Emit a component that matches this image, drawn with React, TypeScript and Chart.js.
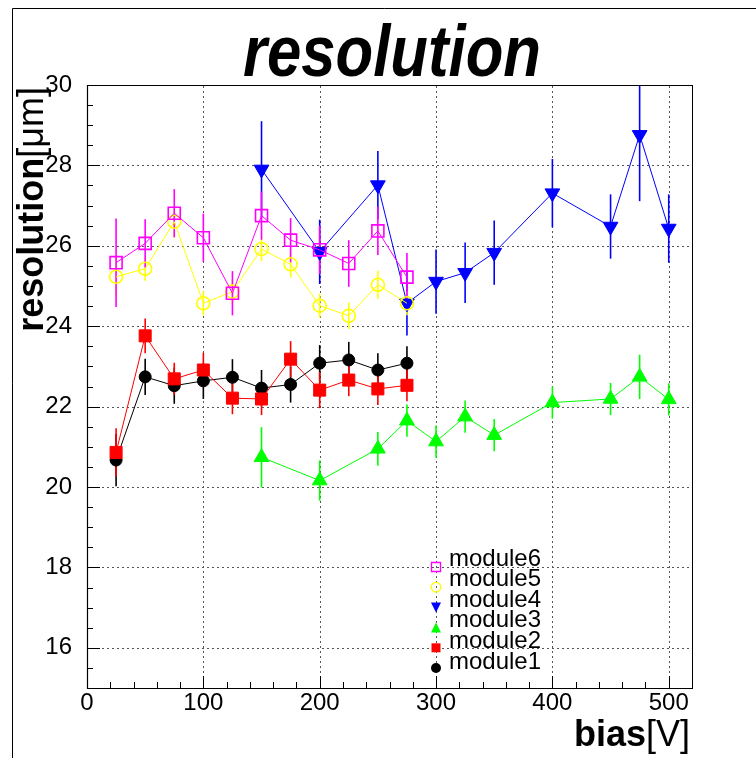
import React, { useEffect, useRef } from 'react';
import { Chart, registerables } from 'chart.js';

Chart.register(...registerables);

// ---------- data ----------
const biasA = [25, 50, 75, 100, 125, 150, 175, 200, 225, 250, 275];
const biasB = [150, 200, 250, 275, 300, 325, 350, 400, 450, 475, 500];

const module1 = [20.67, 22.74, 22.52, 22.64, 22.73, 22.46, 22.55, 23.08, 23.16, 22.91, 23.08];
const module1Err = [0.65, 0.45, 0.45, 0.45, 0.45, 0.45, 0.45, 0.45, 0.45, 0.42, 0.42];

const module2 = [20.86, 23.76, 22.69, 22.91, 22.21, 22.19, 23.18, 22.41, 22.66, 22.44, 22.53];
const module2Err = [0.6, 0.43, 0.4, 0.43, 0.4, 0.4, 0.45, 0.45, 0.4, 0.4, 0.4];

const module3 = [20.74, 20.16, 20.95, 21.65, 21.13, 21.75, 21.29, 22.1, 22.19, 22.74, 22.18];
const module3Err = [0.75, 0.5, 0.42, 0.4, 0.4, 0.4, 0.4, 0.4, 0.4, 0.55, 0.4];

const module4 = [27.9, 25.85, 27.51, 24.57, 25.11, 25.33, 25.83, 27.31, 26.48, 28.76, 26.43];
const module4Err = [1.2, 0.8, 0.85, 0.8, 0.8, 0.75, 0.8, 0.85, 0.8, 1.65, 0.85];

const module5 = [25.23, 25.43, 26.6, 24.57, 24.86, 25.92, 25.54, 24.51, 24.26, 25.03, 24.57];
const module5Err = [0.5, 0.3, 0.4, 0.3, 0.3, 0.3, 0.33, 0.3, 0.33, 0.35, 0.3];

const module6 = [25.58, 26.06, 26.81, 26.2, 24.82, 26.75, 26.14, 25.9, 25.56, 26.37, 25.22];
const module6Err = [1.1, 0.6, 0.6, 0.6, 0.55, 0.6, 0.55, 0.6, 0.58, 0.6, 0.6];

const xTicks = [0, 100, 200, 300, 400, 500];
const yTicks = [16, 18, 20, 22, 24, 26, 28, 30];
const xMinorStep = 20;
const yMinorStep = 0.5;
const xMin = 0;
const xMax = 520;
const yMin = 15;
const yMax = 30;

const titleText = 'resolution';
const yTitleBold = 'resolution';
const yTitleUnit = '[\u03bcm]';
const xTitleBold = 'bias';
const xTitleUnit = '[V]';

// ---------- styles ----------
const FONT = '"Liberation Sans", Arial, Helvetica, sans-serif';

type Def = {
  label: string;
  x: number[];
  y: number[];
  err: number[];
  color: string;
  style: 'rect' | 'circle' | 'triangle';
  filled: boolean;
  rotation: number;
  radius: number;
};

const seriesDefs: Def[] = [
  { label: 'module6', x: biasA, y: module6, err: module6Err, color: '#ff00ff', style: 'rect', filled: false, rotation: 0, radius: 8.5 },
  { label: 'module5', x: biasA, y: module5, err: module5Err, color: '#ffff00', style: 'circle', filled: false, rotation: 0, radius: 6.5 },
  { label: 'module4', x: biasB, y: module4, err: module4Err, color: '#0000ff', style: 'triangle', filled: true, rotation: 180, radius: 8.5 },
  { label: 'module3', x: biasB, y: module3, err: module3Err, color: '#00ff00', style: 'triangle', filled: true, rotation: 0, radius: 8.5 },
  { label: 'module2', x: biasA, y: module2, err: module2Err, color: '#ff0000', style: 'rect', filled: true, rotation: 0, radius: 8.5 },
  { label: 'module1', x: biasA, y: module1, err: module1Err, color: '#000000', style: 'circle', filled: true, rotation: 0, radius: 6 },
];

function drawLegendMarker(ctx: CanvasRenderingContext2D, d: Def, cx: number, cy: number) {
  ctx.save();
  ctx.fillStyle = d.color;
  ctx.strokeStyle = d.color;
  ctx.lineWidth = 1.3;
  ctx.beginPath();
  if (d.style === 'rect') {
    const s = 9;
    ctx.rect(cx - s / 2, cy - s / 2, s, s);
  } else if (d.style === 'circle') {
    ctx.arc(cx, cy, d.filled ? 5 : 4.8, 0, Math.PI * 2);
  } else {
    const s = 10;
    if (d.rotation === 180) {
      ctx.moveTo(cx - s / 2, cy - s / 2);
      ctx.lineTo(cx + s / 2, cy - s / 2);
      ctx.lineTo(cx, cy + s / 2);
    } else {
      ctx.moveTo(cx - s / 2, cy + s / 2);
      ctx.lineTo(cx + s / 2, cy + s / 2);
      ctx.lineTo(cx, cy - s / 2);
    }
    ctx.closePath();
  }
  if (d.filled) ctx.fill();
  else ctx.stroke();
  ctx.restore();
}

const rootPlugin = {
  id: 'rootDecor',
  beforeDraw(chart: any) {
    const ctx: CanvasRenderingContext2D = chart.ctx;
    ctx.save();
    ctx.fillStyle = '#ffffff';
    ctx.fillRect(0, 0, chart.width, chart.height);
    ctx.strokeStyle = '#000';
    ctx.lineWidth = 1;
    ctx.beginPath();
    ctx.moveTo(12.5, chart.height);
    ctx.lineTo(12.5, 8.5);
    ctx.lineTo(chart.width, 8.5);
    ctx.stroke();
    ctx.restore();
  },
  beforeDatasetsDraw(chart: any) {
    const ctx: CanvasRenderingContext2D = chart.ctx;
    const a = chart.chartArea;
    const xs = chart.scales.x;
    const ys = chart.scales.y;
    ctx.save();
    // grid
    ctx.strokeStyle = '#555';
    ctx.lineWidth = 1;
    ctx.setLineDash([2, 3]);
    xTicks.forEach((v) => {
      if (v === xMin) return;
      const px = Math.round(xs.getPixelForValue(v)) + 0.5;
      ctx.beginPath();
      ctx.moveTo(px, a.bottom);
      ctx.lineTo(px, a.top);
      ctx.stroke();
    });
    yTicks.forEach((v) => {
      if (v === yMax) return;
      const py = Math.round(ys.getPixelForValue(v)) + 0.5;
      ctx.beginPath();
      ctx.moveTo(a.left, py);
      ctx.lineTo(a.right, py);
      ctx.stroke();
    });
    ctx.setLineDash([]);
    // error bars
    ctx.beginPath();
    ctx.rect(a.left, a.top, a.right - a.left, a.bottom - a.top);
    ctx.clip();
    [...seriesDefs].reverse().forEach((d) => {
      ctx.strokeStyle = d.color;
      ctx.lineWidth = 1.6;
      d.x.forEach((xv, i) => {
        const px = xs.getPixelForValue(xv);
        const p1 = ys.getPixelForValue(d.y[i] + d.err[i]);
        const p2 = ys.getPixelForValue(d.y[i] - d.err[i]);
        ctx.beginPath();
        ctx.moveTo(px, p1);
        ctx.lineTo(px, p2);
        ctx.stroke();
      });
    });
    ctx.restore();
  },
  afterDraw(chart: any) {
    const ctx: CanvasRenderingContext2D = chart.ctx;
    const a = chart.chartArea;
    const xs = chart.scales.x;
    const ys = chart.scales.y;
    ctx.save();
    // frame
    ctx.strokeStyle = '#000';
    ctx.lineWidth = 1;
    ctx.strokeRect(Math.round(a.left) + 0.5, Math.round(a.top) + 0.5, Math.round(a.right - a.left), Math.round(a.bottom - a.top));
    ctx.lineWidth = 1.2;
    ctx.beginPath();
    ctx.moveTo(Math.round(a.left) + 0.5, Math.round(a.top));
    ctx.lineTo(Math.round(a.left) + 0.5, Math.round(a.bottom) + 0.5);
    ctx.lineTo(Math.round(a.right), Math.round(a.bottom) + 0.5);
    ctx.stroke();
    // tick marks
    ctx.lineWidth = 1;
    for (let v = xMin; v <= xMax + 1e-9; v += xMinorStep) {
      const major = xTicks.includes(v);
      const px = Math.round(xs.getPixelForValue(v)) + 0.5;
      ctx.beginPath();
      ctx.moveTo(px, a.bottom);
      ctx.lineTo(px, a.bottom - (major ? 12 : 6));
      ctx.stroke();
    }
    for (let v = yMin; v <= yMax + 1e-9; v += yMinorStep) {
      const major = yTicks.includes(v);
      const py = Math.round(ys.getPixelForValue(v)) + 0.5;
      ctx.beginPath();
      ctx.moveTo(a.left, py);
      ctx.lineTo(a.left + (major ? 13 : 6), py);
      ctx.stroke();
    }
    // main title (condensed bold italic)
    ctx.fillStyle = '#000';
    ctx.font = `italic bold 72px ${FONT}`;
    const tw = ctx.measureText(titleText).width;
    ctx.save();
    ctx.translate(392, 76);
    ctx.scale(298 / tw, 1);
    ctx.textAlign = 'center';
    ctx.textBaseline = 'alphabetic';
    ctx.fillText(titleText, 0, 0);
    ctx.restore();
    // y title
    ctx.save();
    ctx.translate(43, 87);
    ctx.rotate(-Math.PI / 2);
    ctx.textBaseline = 'alphabetic';
    ctx.textAlign = 'left';
    ctx.font = `bold 36px ${FONT}`;
    const yb = ctx.measureText(yTitleBold).width;
    ctx.font = `36px ${FONT}`;
    const yu = ctx.measureText(yTitleUnit).width;
    ctx.font = `bold 36px ${FONT}`;
    ctx.fillText(yTitleBold, -(yb + yu), 0);
    ctx.font = `36px ${FONT}`;
    ctx.fillText(yTitleUnit, -yu, 0);
    ctx.restore();
    // x title
    ctx.textBaseline = 'alphabetic';
    ctx.textAlign = 'left';
    ctx.font = `bold 36px ${FONT}`;
    const xb = ctx.measureText(xTitleBold).width;
    ctx.font = `36px ${FONT}`;
    const xu = ctx.measureText(xTitleUnit).width;
    const xEnd = 690;
    ctx.font = `bold 36px ${FONT}`;
    ctx.fillText(xTitleBold, xEnd - xb - xu, 746);
    ctx.font = `36px ${FONT}`;
    ctx.fillText(xTitleUnit, xEnd - xu, 746);
    // legend
    ctx.font = `24px ${FONT}`;
    ctx.textBaseline = 'middle';
    seriesDefs.forEach((d, i) => {
      drawLegendMarker(ctx, d, 436, 567 + 20.2 * i);
      ctx.fillStyle = '#000';
      ctx.fillText(d.label, 449, 559 + 20.6 * i);
    });
    ctx.restore();
  },
};

export default function App() {
  const ref = useRef<HTMLCanvasElement | null>(null);
  useEffect(() => {
    if (!ref.current) return;
    const datasets = seriesDefs.map((d) => ({
      label: d.label,
      data: d.x.map((xv, i) => ({ x: xv, y: d.y[i] })),
      borderColor: d.color,
      backgroundColor: d.color,
      borderWidth: 1,
      showLine: true,
      tension: 0,
      pointStyle: d.style,
      pointRadius: d.radius,
      pointRotation: d.rotation,
      pointBackgroundColor: d.filled ? d.color : 'rgba(0,0,0,0)',
      pointBorderColor: d.color,
      pointBorderWidth: d.filled ? 1 : 1.6,
      fill: false,
    }));
    const chart = new Chart(ref.current, {
      type: 'line',
      data: { datasets },
      plugins: [rootPlugin],
      options: {
        responsive: false,
        animation: false,
        events: [],
        layout: { padding: { left: 0, top: 85, right: 64, bottom: 40 } },
        plugins: {
          legend: { display: false },
          title: { display: false },
          tooltip: { enabled: false },
        },
        scales: {
          x: {
            type: 'linear',
            min: xMin,
            max: xMax,
            afterBuildTicks: (s: any) => {
              s.ticks = xTicks.map((v) => ({ value: v }));
            },
            afterFit: (s: any) => {
              s.height = 30;
            },
            grid: { display: false, drawTicks: false },
            border: { display: false },
            ticks: {
              autoSkip: false,
              maxRotation: 0,
              padding: 1,
              color: '#000',
              font: { family: FONT, size: 24 },
            },
          },
          y: {
            type: 'linear',
            min: yMin,
            max: yMax,
            afterBuildTicks: (s: any) => {
              s.ticks = yTicks.map((v) => ({ value: v }));
            },
            afterFit: (s: any) => {
              s.width = 87;
            },
            grid: { display: false, drawTicks: false },
            border: { display: false },
            ticks: {
              autoSkip: false,
              padding: 15,
              color: '#000',
              font: { family: FONT, size: 24 },
            },
          },
        },
      } as any,
    });
    return () => chart.destroy();
  }, []);
  return (
    <div style={{ position: 'fixed', left: 0, top: 0, width: 756, height: 758, background: '#fff' }}>
      <canvas ref={ref} width={756} height={758} style={{ display: 'block', width: 756, height: 758 }} />
    </div>
  );
}
